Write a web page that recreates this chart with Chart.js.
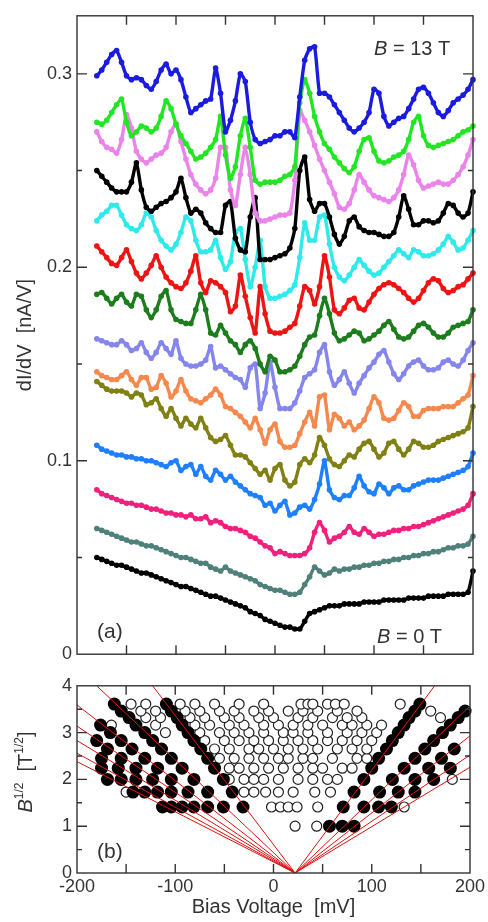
<!DOCTYPE html>
<html>
<head>
<meta charset="utf-8">
<script src="https://cdn.jsdelivr.net/npm/chart.js@4.4.0/dist/chart.umd.min.js"></script>
<style>
  html, body { margin: 0; padding: 0; background: #fff; }
  #wrap { position: relative; width: 488px; height: 922px; }
  #topBox { position: absolute; left: 0; top: 0; width: 488px; height: 670px; }
  #botBox { position: absolute; left: 0; top: 670px; width: 488px; height: 252px; }
</style>
</head>
<body>
<div id="wrap">
  <div id="topBox"><canvas id="spectra"></canvas></div>
  <div id="botBox"><canvas id="fan"></canvas></div>
</div>
<script>
// bias grid [mV]
const bias = [-180,-175,-170,-165,-160,-155,-150,-145,-140,-135,-130,-125,-120,-115,-110,-105,-100,-95,-90,-85,
  -80,-75,-70,-65,-60,-55,-50,-45,-40,-35,-30,-25,-20,-15,-10,-5,0,5,10,15,20,25,30,35,40,45,50,55,60,65,
  70,75,80,85,90,95,100,105,110,115,120,125,130,135,140,145,150,155,160,165,170,175,180,185,190,195,200];

// dI/dV [nA/V], curves offset as in the figure, from 13 T down to 0 T
const dIdV_13T = [0.299,0.302,0.306,0.310,0.312,0.306,0.299,0.297,0.298,0.297,
  0.294,0.292,0.296,0.302,0.305,0.300,0.302,0.297,0.288,0.280,
  0.282,0.284,0.286,0.287,0.303,0.290,0.270,0.276,0.286,0.300,
  0.296,0.275,0.266,0.264,0.265,0.266,0.268,0.268,0.270,0.270,
  0.267,0.288,0.307,0.313,0.314,0.290,0.290,0.288,0.284,0.280,
  0.276,0.272,0.270,0.272,0.275,0.280,0.292,0.290,0.278,0.273,
  0.275,0.277,0.278,0.282,0.287,0.292,0.293,0.290,0.285,0.280,
  0.278,0.281,0.285,0.287,0.289,0.292,0.297];
const dIdV_12T = [0.275,0.274,0.276,0.280,0.284,0.287,0.275,0.268,0.270,0.273,
  0.272,0.270,0.272,0.278,0.286,0.282,0.274,0.268,0.264,0.260,
  0.256,0.257,0.259,0.262,0.266,0.278,0.258,0.246,0.252,0.268,
  0.277,0.262,0.245,0.243,0.244,0.244,0.244,0.245,0.247,0.248,
  0.252,0.285,0.297,0.290,0.278,0.270,0.264,0.261,0.257,0.254,
  0.251,0.249,0.252,0.260,0.266,0.267,0.260,0.255,0.254,0.255,
  0.257,0.258,0.260,0.266,0.275,0.278,0.268,0.263,0.262,0.263,
  0.264,0.265,0.266,0.268,0.270,0.271,0.273];
const dIdV_11T = [0.270,0.265,0.262,0.261,0.259,0.266,0.279,0.272,0.260,0.256,
  0.254,0.256,0.258,0.259,0.262,0.270,0.274,0.265,0.256,0.248,
  0.243,0.240,0.238,0.240,0.246,0.262,0.262,0.240,0.232,0.248,
  0.262,0.248,0.228,0.224,0.224,0.225,0.226,0.227,0.227,0.228,
  0.245,0.281,0.276,0.270,0.263,0.256,0.250,0.244,0.238,0.231,
  0.230,0.233,0.240,0.248,0.244,0.240,0.237,0.236,0.235,0.234,
  0.236,0.240,0.248,0.258,0.253,0.245,0.241,0.242,0.243,0.244,
  0.243,0.243,0.245,0.248,0.252,0.258,0.266];
const dIdV_10T = [0.250,0.247,0.244,0.241,0.239,0.239,0.239,0.244,0.254,0.240,
  0.231,0.229,0.231,0.233,0.234,0.236,0.239,0.246,0.236,0.228,
  0.230,0.228,0.223,0.220,0.218,0.218,0.232,0.234,0.215,0.209,
  0.208,0.226,0.236,0.204,0.204,0.204,0.205,0.206,0.207,0.210,
  0.220,0.250,0.257,0.235,0.229,0.233,0.233,0.226,0.217,0.212,
  0.216,0.224,0.226,0.221,0.219,0.218,0.218,0.217,0.216,0.216,
  0.218,0.226,0.237,0.230,0.222,0.222,0.224,0.224,0.223,0.224,
  0.228,0.233,0.232,0.228,0.226,0.228,0.239];
const dIdV_9T = [0.224,0.227,0.229,0.232,0.232,0.227,0.222,0.220,0.219,0.222,
  0.228,0.226,0.219,0.214,0.211,0.209,0.212,0.218,0.226,0.224,
  0.214,0.208,0.208,0.209,0.214,0.205,0.199,0.203,0.218,0.220,
  0.204,0.190,0.200,0.214,0.190,0.184,0.184,0.185,0.186,0.188,
  0.191,0.205,0.223,0.214,0.214,0.226,0.227,0.212,0.200,0.195,
  0.193,0.196,0.200,0.204,0.201,0.198,0.196,0.197,0.200,0.203,
  0.206,0.209,0.207,0.205,0.209,0.208,0.206,0.206,0.207,0.209,
  0.212,0.216,0.213,0.209,0.210,0.214,0.219];
const dIdV_8T = [0.211,0.208,0.205,0.202,0.201,0.205,0.209,0.203,0.197,0.194,
  0.197,0.201,0.206,0.200,0.195,0.192,0.190,0.189,0.192,0.198,
  0.206,0.192,0.187,0.193,0.192,0.190,0.187,0.177,0.180,0.196,
  0.185,0.174,0.166,0.190,0.176,0.167,0.166,0.166,0.167,0.169,
  0.171,0.180,0.190,0.188,0.181,0.190,0.206,0.195,0.178,0.176,
  0.179,0.183,0.184,0.179,0.178,0.182,0.186,0.189,0.191,0.192,
  0.191,0.189,0.187,0.184,0.182,0.184,0.188,0.192,0.194,0.193,
  0.189,0.187,0.188,0.190,0.191,0.194,0.197];
const dIdV_7T = [0.186,0.187,0.184,0.181,0.184,0.186,0.182,0.180,0.186,0.185,
  0.178,0.174,0.178,0.185,0.188,0.178,0.173,0.172,0.171,0.171,
  0.178,0.186,0.178,0.166,0.165,0.170,0.166,0.162,0.160,0.156,
  0.160,0.162,0.158,0.150,0.146,0.154,0.152,0.146,0.146,0.147,
  0.149,0.154,0.160,0.164,0.165,0.175,0.184,0.176,0.166,0.162,
  0.163,0.165,0.167,0.166,0.162,0.163,0.165,0.167,0.170,0.172,
  0.168,0.164,0.163,0.164,0.167,0.170,0.171,0.169,0.166,0.164,
  0.164,0.166,0.169,0.170,0.171,0.172,0.178];
const dIdV_6T = [0.163,0.162,0.161,0.160,0.160,0.162,0.160,0.157,0.158,0.161,
  0.156,0.153,0.156,0.161,0.158,0.155,0.162,0.153,0.150,0.149,
  0.149,0.150,0.152,0.159,0.148,0.149,0.147,0.145,0.143,0.142,
  0.138,0.148,0.150,0.127,0.135,0.151,0.138,0.127,0.127,0.127,
  0.130,0.136,0.143,0.145,0.147,0.156,0.160,0.146,0.139,0.142,
  0.146,0.140,0.135,0.140,0.144,0.148,0.151,0.155,0.157,0.151,
  0.145,0.142,0.145,0.149,0.151,0.152,0.149,0.147,0.147,0.148,
  0.151,0.152,0.150,0.149,0.152,0.157,0.161];
const dIdV_5T = [0.146,0.144,0.143,0.142,0.142,0.144,0.146,0.142,0.139,0.143,
  0.143,0.137,0.138,0.144,0.140,0.133,0.136,0.142,0.136,0.132,
  0.131,0.130,0.132,0.134,0.137,0.134,0.128,0.127,0.125,0.123,
  0.120,0.117,0.122,0.116,0.109,0.116,0.119,0.110,0.107,0.107,
  0.108,0.114,0.120,0.125,0.118,0.133,0.134,0.116,0.124,0.122,
  0.118,0.120,0.116,0.118,0.121,0.127,0.133,0.130,0.122,0.121,
  0.122,0.126,0.130,0.128,0.123,0.123,0.126,0.127,0.127,0.127,
  0.128,0.128,0.128,0.130,0.132,0.134,0.144];
const dIdV_4T = [0.141,0.139,0.137,0.136,0.136,0.136,0.135,0.133,0.135,0.134,
  0.129,0.130,0.132,0.127,0.123,0.127,0.122,0.118,0.122,0.119,
  0.117,0.122,0.117,0.112,0.110,0.111,0.113,0.108,0.103,0.103,
  0.102,0.099,0.096,0.093,0.095,0.090,0.096,0.098,0.090,0.087,
  0.089,0.098,0.101,0.099,0.103,0.112,0.108,0.101,0.098,0.097,
  0.100,0.103,0.102,0.106,0.109,0.110,0.106,0.102,0.104,0.109,
  0.110,0.106,0.103,0.106,0.110,0.109,0.107,0.107,0.108,0.110,
  0.111,0.112,0.113,0.114,0.115,0.117,0.128];
const dIdV_3T = [0.108,0.106,0.105,0.104,0.103,0.103,0.102,0.102,0.101,0.101,
  0.100,0.100,0.099,0.098,0.097,0.099,0.100,0.095,0.097,0.098,
  0.093,0.097,0.092,0.090,0.095,0.093,0.090,0.092,0.089,0.087,
  0.085,0.083,0.082,0.081,0.077,0.078,0.074,0.077,0.079,0.072,
  0.073,0.076,0.077,0.075,0.080,0.088,0.100,0.085,0.081,0.080,
  0.082,0.082,0.086,0.092,0.087,0.084,0.083,0.088,0.086,0.083,
  0.086,0.087,0.085,0.085,0.087,0.088,0.089,0.090,0.090,0.090,
  0.091,0.092,0.093,0.094,0.095,0.097,0.104];
const dIdV_2T = [0.085,0.083,0.082,0.081,0.080,0.079,0.078,0.078,0.077,0.077,
  0.076,0.075,0.075,0.074,0.073,0.073,0.072,0.072,0.071,0.072,
  0.070,0.070,0.071,0.068,0.069,0.068,0.066,0.065,0.065,0.064,
  0.063,0.061,0.060,0.058,0.056,0.055,0.052,0.053,0.052,0.051,
  0.051,0.051,0.052,0.055,0.063,0.068,0.064,0.058,0.060,0.061,
  0.063,0.066,0.063,0.062,0.065,0.063,0.061,0.062,0.062,0.063,
  0.064,0.064,0.065,0.065,0.066,0.066,0.067,0.068,0.069,0.070,
  0.071,0.072,0.073,0.074,0.075,0.077,0.083];
const dIdV_1T = [0.065,0.064,0.063,0.062,0.061,0.060,0.059,0.058,0.058,0.057,
  0.056,0.056,0.055,0.054,0.053,0.052,0.051,0.050,0.050,0.049,
  0.048,0.047,0.047,0.045,0.044,0.043,0.045,0.043,0.042,0.041,
  0.040,0.039,0.038,0.036,0.035,0.034,0.033,0.033,0.032,0.031,
  0.031,0.032,0.036,0.040,0.045,0.043,0.041,0.042,0.044,0.043,
  0.044,0.044,0.045,0.045,0.046,0.046,0.047,0.047,0.048,0.048,
  0.049,0.049,0.050,0.050,0.051,0.051,0.052,0.052,0.053,0.053,
  0.054,0.055,0.055,0.056,0.056,0.057,0.061];
const dIdV_0T = [0.050,0.049,0.048,0.047,0.046,0.046,0.045,0.044,0.043,0.042,
  0.042,0.041,0.040,0.039,0.038,0.037,0.036,0.035,0.035,0.034,
  0.033,0.032,0.031,0.030,0.030,0.029,0.028,0.027,0.026,0.025,
  0.024,0.022,0.021,0.020,0.018,0.017,0.016,0.015,0.014,0.014,
  0.013,0.013,0.017,0.021,0.022,0.023,0.024,0.025,0.025,0.025,
  0.026,0.026,0.026,0.026,0.027,0.027,0.027,0.027,0.028,0.028,
  0.028,0.028,0.028,0.029,0.029,0.029,0.029,0.030,0.030,0.030,
  0.030,0.031,0.031,0.031,0.031,0.032,0.043];

// panel (b): peak positions, bias [mV] and B^1/2 [T^1/2]
const filledV = [
  -31,-51,-67,-81,-93,-104,-113, 57,70,82,
  -42,-67,-87,-104,-118,-131,-143, 71,92,107,120,
  -51,-81,-104,-123,-140,-155,-169, 82,108,127,144,
  -60,-93,-118,-140,-158,-175, 92,121,144,163,
  -67,-104,-131,-155,-175, 100,133,158,180,
  -74,-114,-144,-169, 107,144,171,
  -81,-123,-155,-180, 115,154,184,
  -87,-131,-166, 121,163,
  -93,-140,-176, 127,172,
  -98,-147, 133,180,
  -104,-155, 138,188,
  -109,-162, 144,195,
  149];
const filledB = [
  1.41,1.41,1.41,1.41,1.41,1.41,1.41, 1.0,1.0,1.0,
  1.73,1.73,1.73,1.73,1.73,1.73,1.73, 1.41,1.41,1.41,1.41,
  2.0,2.0,2.0,2.0,2.0,2.0,2.0, 1.73,1.73,1.73,1.73,
  2.24,2.24,2.24,2.24,2.24,2.24, 2.0,2.0,2.0,2.0,
  2.45,2.45,2.45,2.45,2.45, 2.24,2.24,2.24,2.24,
  2.65,2.65,2.65,2.65, 2.45,2.45,2.45,
  2.83,2.83,2.83,2.83, 2.65,2.65,2.65,
  3.0,3.0,3.0, 2.83,2.83,
  3.16,3.16,3.16, 3.0,3.0,
  3.32,3.32, 3.16,3.16,
  3.46,3.46, 3.32,3.32,
  3.61,3.61, 3.46,3.46,
  3.61];
const openV = [
  22,44,
  -2,7,15,24,45,133,
  -150,-30,-20,-8,5,20,42,58,
  -45,-30,-20,-10,5,25,40,55,65,182,
  -45,-35,-20,-5,10,25,40,50,70,80,
  -55,-40,-25,-10,5,15,30,40,60,85,95,
  -60,-45,-25,-15,0,15,30,45,65,80,95,
  -70,-50,-35,-20,-5,10,25,40,55,70,85,100,
  -110,-75,-55,-40,-25,-10,10,20,35,55,75,90,105,
  -165,-120,-80,-65,-45,-30,-10,5,20,35,50,70,80,95,110,
  -130,-115,-85,-70,-50,-35,-15,0,25,40,60,75,90,170,
  -135,-120,-90,-75,-55,-40,-20,-5,15,30,45,65,85,160,
  -145,-130,-95,-80,-60,-35,-10,28,35,40,55,63,72,129];
const openB = [
  1.0,1.0,
  1.41,1.41,1.41,1.41,1.41,1.41,
  1.73,1.73,1.73,1.73,1.73,1.73,1.73,1.73,
  2.0,2.0,2.0,2.0,2.0,2.0,2.0,2.0,2.0,2.0,
  2.24,2.24,2.24,2.24,2.24,2.24,2.24,2.24,2.24,2.24,
  2.45,2.45,2.45,2.45,2.45,2.45,2.45,2.45,2.45,2.45,2.45,
  2.65,2.65,2.65,2.65,2.65,2.65,2.65,2.65,2.65,2.65,2.65,
  2.83,2.83,2.83,2.83,2.83,2.83,2.83,2.83,2.83,2.83,2.83,2.83,
  3.0,3.0,3.0,3.0,3.0,3.0,3.0,3.0,3.0,3.0,3.0,3.0,3.0,
  3.16,3.16,3.16,3.16,3.16,3.16,3.16,3.16,3.16,3.16,3.16,3.16,3.16,3.16,3.16,
  3.32,3.32,3.32,3.32,3.32,3.32,3.32,3.32,3.32,3.32,3.32,3.32,3.32,3.32,
  3.46,3.46,3.46,3.46,3.46,3.46,3.46,3.46,3.46,3.46,3.46,3.46,3.46,3.46,
  3.61,3.61,3.61,3.61,3.61,3.61,3.61,3.61,3.61,3.61,3.61,3.61,3.61,3.61];

// Landau level fan lines: common origin and where each line leaves the frame
const fanOrigin = [22, 0];
const fanEndV = [-123, -180, -200, -200, -200, -200, -200, 164, 200, 200, 200, 200];
const fanEndB = [4, 4, 3.59, 3.14, 2.83, 2.56, 2.38, 4, 3.57, 2.93, 2.52, 2.26];

// tick values
const xMajorTicks = [-200, -100, 0, 100, 200];
const xInnerTicks = [-150, -100, -50, 0, 50, 100, 150];
const topYLabels = [0, 0.1, 0.2, 0.3];
const topYMinor = [0.05, 0.15, 0.25];
const botYLabels = [0, 1, 2, 3, 4];
const botYMajor = [1, 2, 3];
const botYMinor = [0.5, 1.5, 2.5, 3.5];

const FONT = "'Liberation Sans', Arial, sans-serif";
const INK = '#333';

const curves = [
  [dIdV_13T, '#1a1ae0'], [dIdV_12T, '#22e622'], [dIdV_11T, '#ea84ea'], [dIdV_10T, '#000000'],
  [dIdV_9T, '#2eeaea'], [dIdV_8T, '#ee1414'], [dIdV_7T, '#1d7d1d'], [dIdV_6T, '#8585ee'],
  [dIdV_5T, '#f5884c'], [dIdV_4T, '#808014'], [dIdV_3T, '#1e80ff'], [dIdV_2T, '#f0207c'],
  [dIdV_1T, '#4f807a'], [dIdV_0T, '#000000']
];

// frame and inward ticks, drawn from the scales
const framePlugin = {
  id: 'frame',
  afterDraw(chart, args, o) {
    const { ctx, chartArea: a, scales } = chart;
    ctx.save();
    ctx.strokeStyle = INK;
    ctx.lineWidth = 1.4;
    ctx.strokeRect(a.left, a.top, a.right - a.left, a.bottom - a.top);
    ctx.beginPath();
    o.xTicks.forEach(v => {
      const px = scales.x.getPixelForValue(v);
      ctx.moveTo(px, a.bottom); ctx.lineTo(px, a.bottom - 9);
      ctx.moveTo(px, a.top); ctx.lineTo(px, a.top + 9);
    });
    o.yMajor.forEach(v => {
      const py = scales.y.getPixelForValue(v);
      ctx.moveTo(a.left, py); ctx.lineTo(a.left + 10, py);
      ctx.moveTo(a.right, py); ctx.lineTo(a.right - 10, py);
    });
    o.yMinor.forEach(v => {
      const py = scales.y.getPixelForValue(v);
      ctx.moveTo(a.left, py); ctx.lineTo(a.left + 5, py);
      ctx.moveTo(a.right, py); ctx.lineTo(a.right - 5, py);
    });
    ctx.stroke();
    ctx.restore();
  }
};

// free text (panel labels, field labels, rich axis title)
const textPlugin = {
  id: 'notes',
  afterDraw(chart, args, o) {
    const ctx = chart.ctx;
    ctx.save();
    ctx.fillStyle = INK;
    ctx.textBaseline = 'alphabetic';
    (o.items || []).forEach(item => {
      ctx.save();
      ctx.translate(item.x, item.y);
      if (item.rotate) ctx.rotate(item.rotate);
      let total = 0;
      item.parts.forEach(p => { ctx.font = p.font; total += ctx.measureText(p.t).width; });
      let cx = item.center ? -total / 2 : 0;
      item.parts.forEach(p => {
        ctx.font = p.font;
        ctx.fillText(p.t, cx, p.dy || 0);
        cx += ctx.measureText(p.t).width;
      });
      ctx.restore();
    });
    ctx.restore();
  }
};

function tickLabel(v) {
  if (v === 0) return '0';
  return Number.isInteger(v) ? String(v) : v.toFixed(1);
}

new Chart(document.getElementById('spectra'), {
  type: 'line',
  data: {
    datasets: curves.map(([vals, col]) => ({
      data: bias.map((v, i) => ({ x: v, y: vals[i] })),
      borderColor: col,
      backgroundColor: col,
      borderWidth: 3.4,
      pointRadius: 2.8,
      pointBorderWidth: 0,
      borderJoinStyle: 'round',
      borderCapStyle: 'round',
      tension: 0.2,
      clip: 6
    }))
  },
  options: {
    responsive: true,
    maintainAspectRatio: false,
    animation: false,
    layout: { padding: { left: 0, right: 15, top: 8, bottom: 8 } },
    plugins: {
      legend: { display: false },
      tooltip: { enabled: false },
      frame: { xTicks: xInnerTicks, yMajor: topYLabels.slice(1), yMinor: topYMinor },
      notes: {
        items: [
          { x: 374, y: 55, parts: [{ t: 'B', font: `italic 20px ${FONT}` }, { t: ' = 13 T', font: `20px ${FONT}` }] },
          { x: 377, y: 643, parts: [{ t: 'B', font: `italic 20px ${FONT}` }, { t: ' = 0 T', font: `20px ${FONT}` }] },
          { x: 97, y: 638, parts: [{ t: '(a)', font: `21px ${FONT}` }] }
        ]
      }
    },
    scales: {
      x: {
        type: 'linear', min: -200, max: 200,
        grid: { display: false, drawTicks: false },
        border: { display: false },
        ticks: { display: false },
        afterFit: s => { s.height = 0; }
      },
      y: {
        min: 0, max: 0.33,
        grid: { display: false, drawTicks: false },
        border: { display: false },
        afterBuildTicks: s => { s.ticks = topYLabels.map(v => ({ value: v })); },
        ticks: { callback: tickLabel, color: INK, padding: 5, font: { family: FONT, size: 18 } },
        title: { display: true, text: 'dI/dV  [nA/V]', color: INK, font: { family: FONT, size: 20 }, padding: { top: 13, bottom: 0 } },
        afterFit: s => { s.width = 77; }
      }
    }
  },
  plugins: [framePlugin, textPlugin]
});

const fanSets = fanEndV.map((v, i) => ({
  type: 'line',
  data: [{ x: fanOrigin[0], y: fanOrigin[1] }, { x: v, y: fanEndB[i] }],
  borderColor: '#e01010',
  borderWidth: 1,
  pointRadius: 0,
  order: 0
}));

new Chart(document.getElementById('fan'), {
  type: 'scatter',
  data: {
    datasets: [
      ...fanSets,
      {
        data: filledV.map((v, i) => ({ x: v, y: filledB[i] })),
        pointRadius: 6.5, pointBackgroundColor: '#000', pointBorderColor: '#000', pointBorderWidth: 0,
        order: 1, clip: 8
      },
      {
        data: openV.map((v, i) => ({ x: v, y: openB[i] })),
        pointRadius: 5, pointBackgroundColor: '#fff', pointBorderColor: '#222', pointBorderWidth: 1.2,
        order: 2, clip: 8
      }
    ]
  },
  options: {
    responsive: true,
    maintainAspectRatio: false,
    animation: false,
    layout: { padding: { left: 0, right: 15, top: 8, bottom: 0 } },
    plugins: {
      legend: { display: false },
      tooltip: { enabled: false },
      frame: { xTicks: xInnerTicks, yMajor: botYMajor, yMinor: botYMinor },
      notes: {
        items: [
          { x: 97, y: 188, parts: [{ t: '(b)', font: `21px ${FONT}` }] },
          { x: 32, y: 102, rotate: -Math.PI / 2, center: true, parts: [
            { t: 'B', font: `italic 20px ${FONT}` },
            { t: '1/2', font: `12px ${FONT}`, dy: -9 },
            { t: '  [T', font: `20px ${FONT}` },
            { t: '1/2', font: `12px ${FONT}`, dy: -9 },
            { t: ']', font: `20px ${FONT}` }
          ] }
        ]
      }
    },
    scales: {
      x: {
        type: 'linear', min: -200, max: 200,
        grid: { display: false, drawTicks: false },
        border: { display: false },
        afterBuildTicks: s => { s.ticks = xMajorTicks.map(v => ({ value: v })); },
        ticks: { callback: v => String(v), color: INK, padding: 3, maxRotation: 0, autoSkip: false, font: { family: FONT, size: 18 } },
        title: { display: true, text: 'Bias Voltage  [mV]', color: INK, font: { family: FONT, size: 20 }, padding: { top: 0, bottom: 3 } },
        afterFit: s => { s.height = 49; }
      },
      y: {
        min: 0, max: 4,
        grid: { display: false, drawTicks: false },
        border: { display: false },
        afterBuildTicks: s => { s.ticks = botYLabels.map(v => ({ value: v })); },
        ticks: { callback: v => String(v), color: INK, padding: 5, font: { family: FONT, size: 18 } },
        afterFit: s => { s.width = 77; }
      }
    }
  },
  plugins: [framePlugin, textPlugin]
});
</script>
</body>
</html>
